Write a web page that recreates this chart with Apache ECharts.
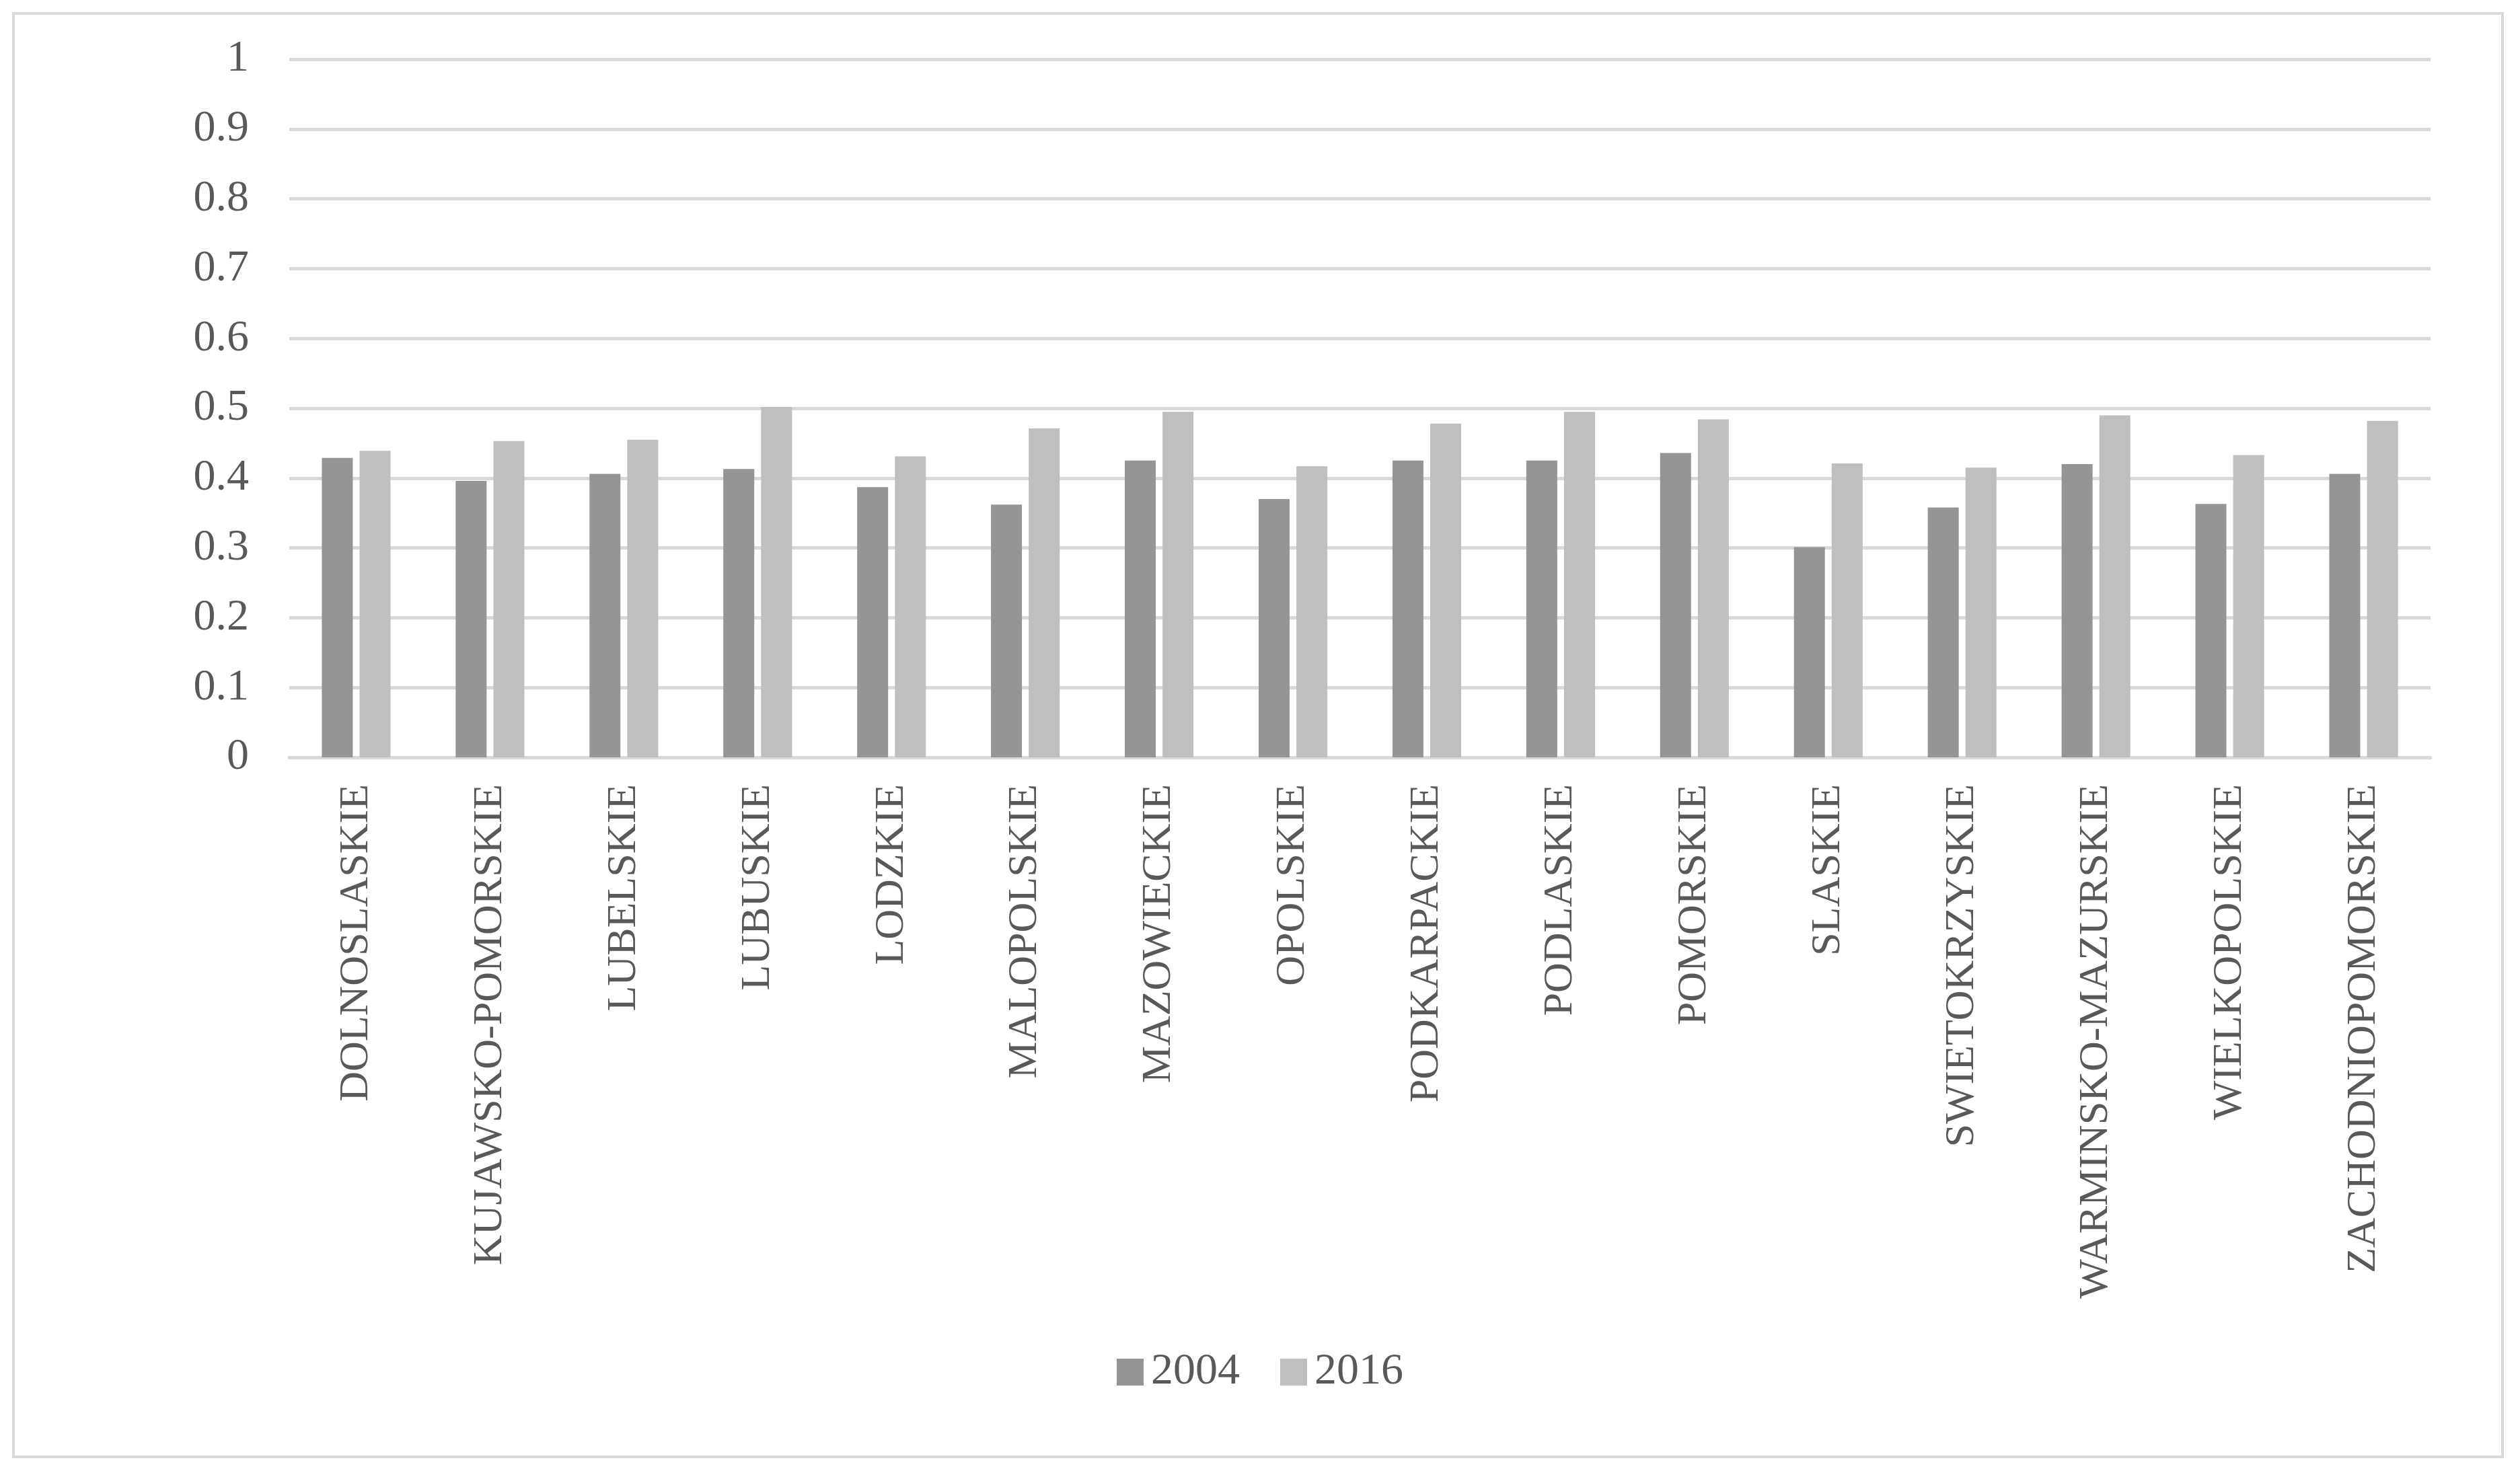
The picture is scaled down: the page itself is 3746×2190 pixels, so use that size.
<!DOCTYPE html>
<html>
<head>
<meta charset="utf-8">
<script src="https://cdn.jsdelivr.net/npm/echarts@6/dist/echarts.min.js"></script>
<style>
  html, body { margin: 0; padding: 0; background: #fff; }
  #frame { position: absolute; left: 18px; top: 18px; width: 3704px; height: 2150px; border: 4px solid #d9d9d9; box-sizing: border-box; }
  #chart { width: 3746px; height: 2190px; }
</style>
</head>
<body>
<div id="frame"></div>
<div id="chart"></div>
<script>
var regions = ['DOLNOSLASKIE', 'KUJAWSKO-POMORSKIE', 'LUBELSKIE', 'LUBUSKIE', 'LODZKIE', 'MALOPOLSKIE',
    'MAZOWIECKIE', 'OPOLSKIE', 'PODKARPACKIE', 'PODLASKIE', 'POMORSKIE', 'SLASKIE',
    'SWIETOKRZYSKIE', 'WARMINSKO-MAZURSKIE', 'WIELKOPOLSKIE', 'ZACHODNIOPOMORSKIE'];
var values2004 = [0.429, 0.396, 0.406, 0.413, 0.387, 0.362, 0.425, 0.370, 0.425, 0.425, 0.436, 0.301, 0.358, 0.420, 0.363, 0.406];
var values2016 = [0.439, 0.453, 0.455, 0.502, 0.431, 0.471, 0.495, 0.417, 0.478, 0.495, 0.484, 0.421, 0.415, 0.490, 0.433, 0.482];
var yTicks = [0, 0.1, 0.2, 0.3, 0.4, 0.5, 0.6, 0.7, 0.8, 0.9, 1];

var font = '"Liberation Serif", "DejaVu Serif", serif';
var myChart = echarts.init(document.getElementById('chart'));

var option = {
    backgroundColor: 'transparent',
    animation: false,
    textStyle: { fontFamily: font },
    grid: { left: 430, right: 133, top: 88, bottom: 1064, containLabel: false },
    legend: {
        data: ['2004', '2016'],
        bottom: 112,
        left: 'center',
        itemWidth: 40,
        itemHeight: 40,
        itemGap: 60,
        icon: 'rect',
        textStyle: { fontFamily: font, fontSize: 66, color: '#595959', padding: [0, 0, 0, 6] }
    },
    xAxis: {
        type: 'category',
        data: regions,
        axisLine: { show: true, lineStyle: { color: '#d9d9d9', width: 5 } },
        axisTick: { show: false },
        axisLabel: { rotate: 90, fontSize: 62, color: '#595959', margin: 40, fontFamily: font }
    },
    yAxis: {
        type: 'value',
        min: 0,
        max: 1,
        interval: 0.1,
        axisLine: { show: false },
        axisTick: { show: false },
        splitLine: { lineStyle: { color: '#d9d9d9', width: 5 } },
        axisLabel: {
            fontSize: 66, color: '#595959', margin: 60, fontFamily: font,
            formatter: function (v) {
                var hit = yTicks.filter(function (t) { return Math.abs(t - v) < 1e-9; });
                return hit.length ? String(hit[0]) : '';
            }
        }
    },
    series: [{
        name: '2004',
        type: 'bar',
        data: values2004,
        barWidth: 46,
        barGap: '22%',
        itemStyle: { color: '#959595' }
    }, {
        name: '2016',
        type: 'bar',
        data: values2016,
        barWidth: 46,
        itemStyle: { color: '#bfbfbf' }
    }]
};

myChart.setOption(option);
</script>
</body>
</html>
